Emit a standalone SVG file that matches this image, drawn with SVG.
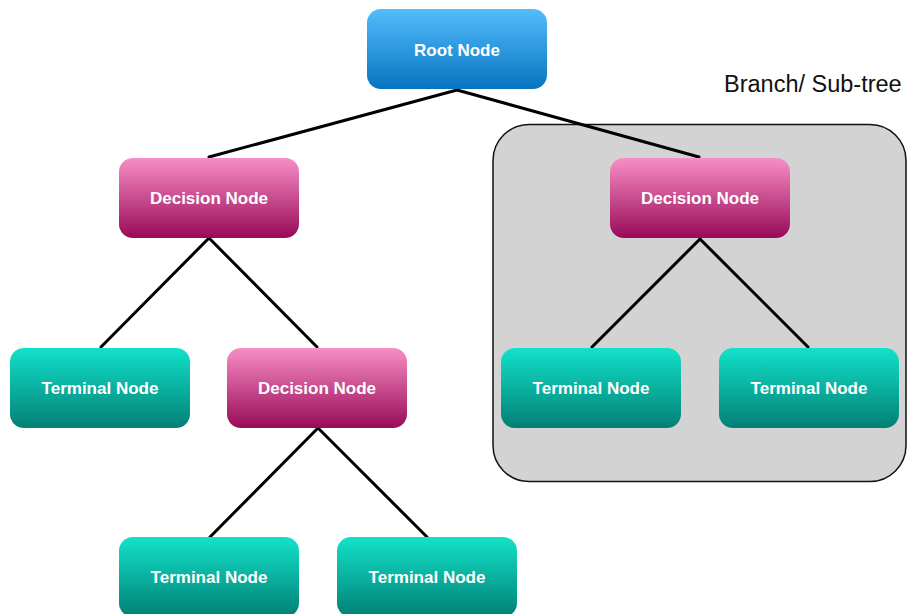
<svg xmlns="http://www.w3.org/2000/svg" width="907" height="614" viewBox="0 0 907 614">
  <defs>
    <linearGradient id="gRoot" x1="0" y1="0" x2="0" y2="1">
      <stop offset="0" stop-color="#52bdfb"/>
      <stop offset="1" stop-color="#0874c0"/>
    </linearGradient>
    <linearGradient id="gDecision" x1="0" y1="0" x2="0" y2="1">
      <stop offset="0" stop-color="#f78ec6"/>
      <stop offset="1" stop-color="#990a58"/>
    </linearGradient>
    <linearGradient id="gTerminal" x1="0" y1="0" x2="0" y2="1">
      <stop offset="0" stop-color="#12e2c9"/>
      <stop offset="1" stop-color="#027f75"/>
    </linearGradient>
  </defs>
  <style>
    .box { stroke: none; }
    .root { fill: url(#gRoot); }
    .decision { fill: url(#gDecision); }
    .terminal { fill: url(#gTerminal); }
    .label { font-family: "Liberation Sans", Arial, sans-serif; font-size: 17px; font-weight: bold; fill: #ffffff; text-anchor: middle; }
    .edge { stroke: #000000; stroke-width: 3; stroke-linecap: round; fill: none; }
    .caption { font-family: "Liberation Sans", Arial, sans-serif; font-size: 23.5px; fill: #111111; }
  </style>
  <rect width="907" height="614" fill="#ffffff"/>

  <!-- sub-tree highlight panel -->
  <g id="subtree">
    <rect x="493" y="124.5" width="413" height="357" rx="36" fill="#d3d3d3" stroke="#111111" stroke-width="1.5"/>
    <text class="caption" x="724" y="92">Branch/ Sub-tree</text>
  </g>

  <g id="connectors">
    <line class="edge" x1="457" y1="90" x2="209" y2="157"/>
    <line class="edge" x1="457" y1="90" x2="699" y2="157"/>
    <line class="edge" x1="209" y1="238" x2="101" y2="347"/>
    <line class="edge" x1="209" y1="238" x2="317" y2="347"/>
    <line class="edge" x1="318" y1="428" x2="210" y2="537"/>
    <line class="edge" x1="318" y1="428" x2="427" y2="537"/>
    <line class="edge" x1="700" y1="239" x2="592" y2="347"/>
    <line class="edge" x1="700" y1="239" x2="808" y2="347"/>
  </g>

  <g id="root">
    <rect class="box root" x="367" y="9" width="180" height="80" rx="14"/>
    <text class="label" x="457" y="56">Root Node</text>
  </g>

  <g id="decision-left">
    <rect class="box decision" x="119" y="158" width="180" height="80" rx="14"/>
    <text class="label" x="209" y="204">Decision Node</text>
  </g>

  <g id="decision-right">
    <rect class="box decision" x="610" y="158" width="180" height="80" rx="14"/>
    <text class="label" x="700" y="204">Decision Node</text>
  </g>

  <g id="terminal-left">
    <rect class="box terminal" x="10" y="348" width="180" height="80" rx="14"/>
    <text class="label" x="100" y="394">Terminal Node</text>
  </g>

  <g id="decision-middle">
    <rect class="box decision" x="227" y="348" width="180" height="80" rx="14"/>
    <text class="label" x="317" y="394">Decision Node</text>
  </g>

  <g id="terminal-sub-left">
    <rect class="box terminal" x="501" y="348" width="180" height="80" rx="14"/>
    <text class="label" x="591" y="394">Terminal Node</text>
  </g>

  <g id="terminal-sub-right">
    <rect class="box terminal" x="719" y="348" width="180" height="80" rx="14"/>
    <text class="label" x="809" y="394">Terminal Node</text>
  </g>

  <g id="terminal-bottom-left">
    <rect class="box terminal" x="119" y="537" width="180" height="80" rx="14"/>
    <text class="label" x="209" y="583">Terminal Node</text>
  </g>

  <g id="terminal-bottom-right">
    <rect class="box terminal" x="337" y="537" width="180" height="80" rx="14"/>
    <text class="label" x="427" y="583">Terminal Node</text>
  </g>
</svg>
